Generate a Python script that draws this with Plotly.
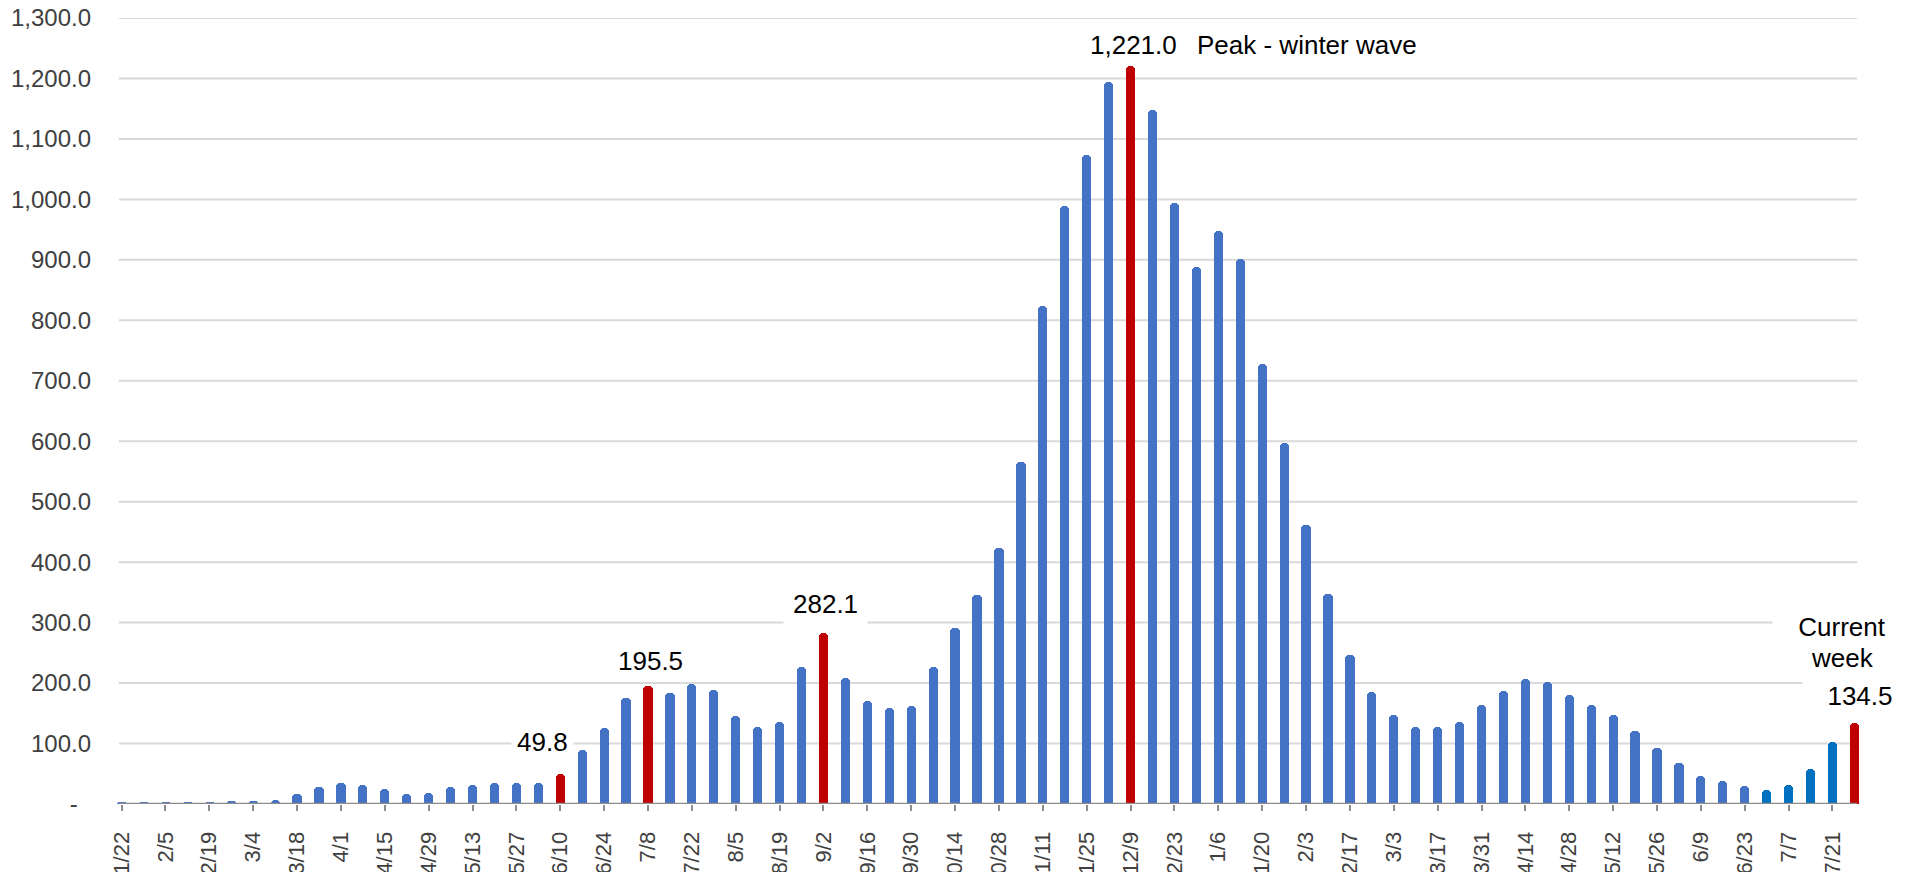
import plotly.graph_objects as go

# ---- data ----
weeks = ["1/22", "1/29", "2/5", "2/12", "2/19", "2/26", "3/4", "3/11", "3/18", "3/25",
         "4/1", "4/8", "4/15", "4/22", "4/29", "5/6", "5/13", "5/20", "5/27", "6/3",
         "6/10", "6/17", "6/24", "7/1", "7/8", "7/15", "7/22", "7/29", "8/5", "8/12",
         "8/19", "8/26", "9/2", "9/9", "9/16", "9/23", "9/30", "10/7", "10/14", "10/21",
         "10/28", "11/4", "11/11", "11/18", "11/25", "12/2", "12/9", "12/16", "12/23", "12/30",
         "1/6", "1/13", "1/20", "1/27", "2/3", "2/10", "2/17", "2/24", "3/3", "3/10",
         "3/17", "3/24", "3/31", "4/7", "4/14", "4/21", "4/28", "5/5", "5/12", "5/19",
         "5/26", "6/2", "6/9", "6/16", "6/23", "6/30", "7/7", "7/14", "7/21", "7/28"]

values = [4, 4, 4, 4, 4, 5, 5, 7, 16, 28,
          34, 32, 24, 17, 18, 28, 32, 34, 34, 35,
          49.8, 89, 125, 175, 195.5, 184, 198, 188, 146, 128,
          135, 226, 282.1, 209, 170, 158, 162, 227, 291, 345,
          423, 565, 824, 989, 1074, 1194, 1221.0, 1148, 994, 888,
          947, 901, 728, 597, 461, 347, 247, 186, 147, 128,
          127, 136, 164, 187, 206, 202, 180, 164, 147, 121,
          92, 67, 47, 38, 29, 23, 32, 58, 102, 134.5]

highlight_weeks = [20, 24, 32, 46, 79]     # red bars (indices into weeks)
recent_weeks = [75, 76, 77, 78]            # darker blue bars

y_ticks = [0, 100, 200, 300, 400, 500, 600, 700, 800, 900, 1000, 1100, 1200, 1300]
y_ticktext = ["-\u00a0\u00a0"] + [f"{v:,.1f}" for v in y_ticks[1:]]

# ---- styles ----
BLUE = "#4472C4"
DARK_BLUE = "#0070C0"
RED = "#C00000"
colors = []
for i in range(len(values)):
    if i in highlight_weeks:
        colors.append(RED)
    elif i in recent_weeks:
        colors.append(DARK_BLUE)
    else:
        colors.append(BLUE)

x = list(range(len(weeks)))

fig = go.Figure()
fig.add_trace(go.Bar(
    x=x, y=values,
    marker=dict(color=colors, line=dict(width=0), cornerradius=4),
    width=0.42,
    hoverinfo="x+y",
))

shapes = []
for v in y_ticks[1:]:
    shapes.append(dict(type="line", xref="x", yref="y", x0=-0.12, x1=79.12, y0=v, y1=v,
                       line=dict(color="#D9D9D9", width=2), layer="below"))
shapes.append(dict(type="line", xref="x", yref="y", x0=-0.12, x1=79.12, y0=0, y1=0,
                   line=dict(color="#8C8C8C", width=2.5), layer="above"))

FONT = "Liberation Sans, Arial, sans-serif"
ann_font = dict(family=FONT, size=26, color="#000000")

def ann(text, xi, yv, **kw):
    d = dict(x=xi, y=yv, xref="x", yref="y", text=text, showarrow=False,
             font=ann_font, xanchor="center", yanchor="middle",
             bgcolor="#FFFFFF", borderpad=5)
    d.update(kw)
    return d

annotations = [
    ann(f"{values[20]:,.1f}", 19.2, 102),
    ann(f"{values[24]:,.1f}", 24.1, 237),
    ann(f"{values[32]:,.1f}", 32.1, 330, borderpad=9),
    ann(f"{values[46]:,.1f}", 46.13, 1256),
    ann("Peak - winter wave", 54.05, 1256),
    ann("Current", 78.45, 293, width=128),
    ann("week", 78.45, 242, bgcolor="rgba(0,0,0,0)"),
    ann(f"{values[79]:,.1f}", 79.25, 179, width=104),
]

# page body has an 8px margin, so the figure is sized to fit the 1915x872 window
fig.update_layout(
    width=1907, height=864,
    margin=dict(l=107, r=54, t=10, b=68),
    paper_bgcolor="#FFFFFF", plot_bgcolor="#FFFFFF",
    showlegend=False,
    bargap=0,
    shapes=shapes,
    annotations=annotations,
    font=dict(family=FONT, color="#404040"),
    xaxis=dict(
        range=[-0.3, 79.3],
        tickmode="array",
        tickvals=x[::2],
        ticktext=weeks[::2],
        tickangle=-90,
        ticks="outside", ticklen=6, tickwidth=1.5, tickcolor="#8C8C8C",
        showgrid=False, zeroline=False, showline=False,
        tickfont=dict(family=FONT, size=22, color="#404040"),
        ticklabelstandoff=12,
        ticklabeloverflow="allow",
        automargin=False,
        fixedrange=True,
    ),
    yaxis=dict(
        range=[0, 1300],
        tickmode="array",
        tickvals=y_ticks,
        ticktext=y_ticktext,
        showgrid=False, zeroline=False, showline=False,
        ticks="",
        tickfont=dict(family=FONT, size=24, color="#404040"),
        ticklabelstandoff=23,
        ticklabeloverflow="allow",
        automargin=False,
        fixedrange=True,
    ),
)

fig.write_html("out.html")
